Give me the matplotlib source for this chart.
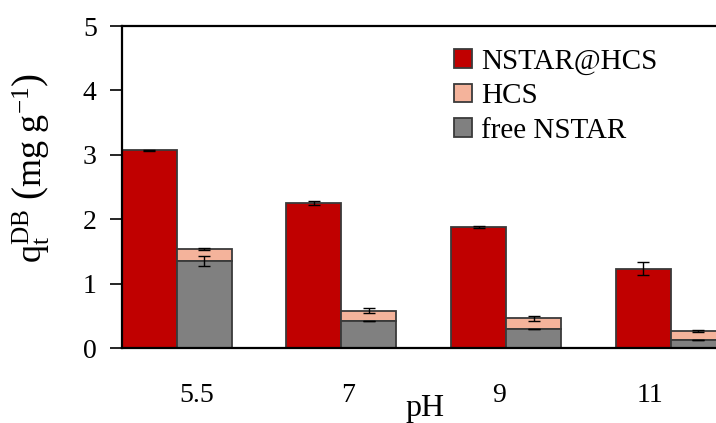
import numpy as np
import matplotlib.pyplot as plt

plt.rcParams['font.family'] = ['Liberation Serif', 'DejaVu Serif']
plt.rcParams['mathtext.fontset'] = 'custom'
plt.rcParams['mathtext.rm'] = 'Liberation Serif'
plt.rcParams['mathtext.it'] = 'Liberation Serif:italic'

ph_labels = ['5.5', '7', '9', '11']
nstar_hcs = [3.07, 2.25, 1.88, 1.23]
nstar_hcs_err = [0.01, 0.03, 0.01, 0.10]
free_nstar = [1.35, 0.42, 0.295, 0.124]
free_nstar_err = [0.08, 0.005, 0.005, 0.005]
hcs = [0.19, 0.16, 0.17, 0.14]      # stacked on top of free NSTAR
hcs_err = [0.01, 0.04, 0.04, 0.01]

x = np.arange(len(ph_labels))
w = 0.334
edge = '#3a3a3a'

fig = plt.figure(figsize=(7.16, 4.23), dpi=100)
ax = fig.add_axes([0.170, 0.177, 0.830, 0.7615])

ax.bar(x - w / 2, nstar_hcs, w, color='#C00000', edgecolor=edge, lw=1.3, label='NSTAR@HCS')
ax.bar(x + w / 2, hcs, w, bottom=free_nstar, color='#F4B39B', edgecolor=edge, lw=1.3, label='HCS')
ax.bar(x + w / 2, free_nstar, w, color='#808080', edgecolor=edge, lw=1.3, label='free NSTAR')

tot = np.array(free_nstar) + np.array(hcs)
ekw = dict(fmt='none', ecolor='black', elinewidth=1.0, capsize=4, capthick=1.0, zorder=5)
ax.errorbar(x - w / 2, nstar_hcs, yerr=nstar_hcs_err, **ekw)
ax.errorbar(x + w / 2, tot, yerr=hcs_err, **ekw)
ax.errorbar(x + w / 2, free_nstar, yerr=free_nstar_err, **ekw)

ax.set_xlim(-w, 3.274)
ax.set_ylim(0, 5)
ax.set_yticks(range(6))
# tick labels in the original sit on a slightly narrower grid than the bars
ax.set_xticks(0.12 + x * 151 / 164.5)
ax.set_xticklabels(ph_labels)
ax.tick_params(axis='x', length=0, pad=25, labelsize=20)
ax.tick_params(axis='y', direction='out', length=9, width=1.2, pad=9, labelsize=20)
ax.spines['right'].set_visible(False)
for s in ['left', 'top', 'bottom']:
    ax.spines[s].set_linewidth(1.6)

ax.set_xlabel('pH', fontsize=23)
ax.xaxis.set_label_coords(0.51, -0.142)
ax.set_ylabel(r'$\mathrm{q_t^{DB}}\ \left(\mathrm{mg\ g^{-1}}\right)$', fontsize=26)
ax.yaxis.set_label_coords(-0.118, 0.56)

handles, labels = ax.get_legend_handles_labels()
ax.legend(handles, labels, loc='upper right', bbox_to_anchor=(0.945, 1.012), frameon=False,
          fontsize=21, handlelength=0.62, handleheight=0.62, handletextpad=0.3, labelspacing=0.3)

fig.savefig('out.png', dpi=100)
